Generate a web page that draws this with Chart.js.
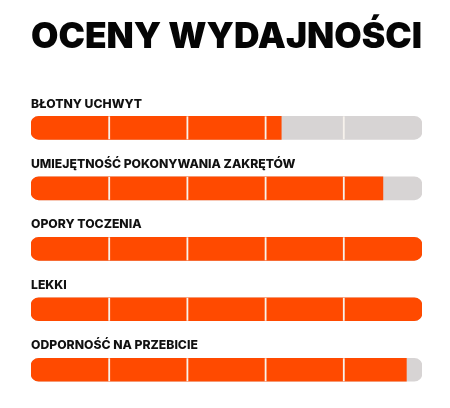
<!DOCTYPE html>
<html>
<head>
<meta charset="utf-8">
<script src="https://cdn.jsdelivr.net/npm/chart.js@4"></script>
<style>
  html, body { margin: 0; padding: 0; background: #fff; }
  #wrap { width: 450px; height: 408px; }
</style>
</head>
<body>
<div id="wrap"><canvas id="ratingChart"></canvas></div>
<script>
// ratings on a 0-5 scale
const categories = [
	"BŁOTNY UCHWYT",
	"UMIEJĘTNOŚĆ POKONYWANIA ZAKRĘTÓW",
	"OPORY TOCZENIA",
	"LEKKI",
	"ODPORNOŚĆ NA PRZEBICIE",
];
const ratings = [3.2, 4.5, 5, 5, 4.8];
const maxRating = [5, 5, 5, 5, 5];
const xTicks = [0, 1, 2, 3, 4, 5];

const ORANGE = "#ff4a00";
const TRACK = "#d7d4d4";
const DIVIDER = "#f7f2ec";

// white separators between the rating segments, drawn over the bars
const segmentDividers = {
	id: "segmentDividers",
	afterDatasetsDraw(chart) {
		const ctx = chart.ctx;
		const xScale = chart.scales.x;
		const meta = chart.getDatasetMeta(0);
		ctx.save();
		ctx.strokeStyle = DIVIDER;
		ctx.lineWidth = 1.8;
		meta.data.forEach((bar) => {
			const top = bar.y - bar.height / 2;
			const bottom = bar.y + bar.height / 2;
			xTicks.slice(1, -1).forEach((v) => {
				const x = xScale.getPixelForValue(v);
				ctx.beginPath();
				ctx.moveTo(x, top);
				ctx.lineTo(x, bottom);
				ctx.stroke();
			});
		});
		ctx.restore();
	},
};

document.addEventListener("DOMContentLoaded", function () {
	const ctx = document.getElementById("ratingChart").getContext("2d");
	new Chart(ctx, {
		type: "bar",
		data: {
			labels: categories,
			datasets: [
				{
					label: "Skala",
					data: maxRating,
					backgroundColor: TRACK,
					borderRadius: 8,
					borderSkipped: false,
					barThickness: 23,
					grouped: false,
					order: 2,
				},
				{
					label: "Ocena",
					data: ratings,
					backgroundColor: ORANGE,
					borderSkipped: false,
					borderRadius: (c) => {
						const full = c.raw >= 5;
						return { topLeft: 8, bottomLeft: 8, topRight: full ? 8 : 0, bottomRight: full ? 8 : 0 };
					},
					barThickness: 23,
					grouped: false,
					order: 1,
				},
			],
		},
		options: {
			indexAxis: "y",
			responsive: true,
			maintainAspectRatio: false,
			animation: false,
			layout: { padding: { left: 31, right: 28, top: 0, bottom: 8 } },
			scales: {
				x: {
					min: 0,
					max: 5,
					display: false,
					ticks: { stepSize: 1 },
				},
				y: {
					grid: { display: false, drawTicks: false },
					border: { display: false },
					ticks: {
						mirror: true,
						padding: 0,
						labelOffset: -24,
						color: "#111",
						font: { family: "Inter", size: 12.2, weight: "800" },
					},
				},
			},
			plugins: {
				legend: { display: false },
				tooltip: { enabled: false },
				title: {
					display: true,
					text: "OCENY WYDAJNOŚCI",
					color: "#050505",
					font: { family: "Inter", size: 35.5, weight: "900" },
					padding: { top: 16, bottom: 39 },
				},
			},
		},
		plugins: [segmentDividers],
	});
});
</script>
</body>
</html>
